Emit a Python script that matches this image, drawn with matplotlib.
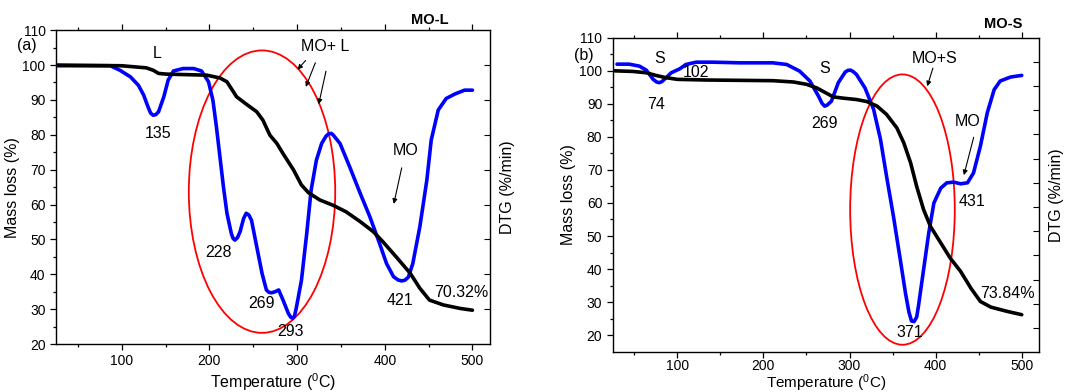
import numpy as np
import matplotlib
matplotlib.use('Agg')
import matplotlib.pyplot as plt
from matplotlib.patches import Ellipse

plt.rcParams['font.family'] = ['Liberation Sans', 'DejaVu Sans']
plt.rcParams['mathtext.fontset'] = 'custom'
plt.rcParams['mathtext.rm'] = 'Liberation Sans'

# ---- panel (a) MO-L ----
tg_a_x = [25, 100, 128, 136, 142, 151, 197, 212, 220, 231, 242, 254, 261, 269, 277, 284, 296,
          305, 313, 326, 341, 356, 372, 387, 398, 413, 429, 440, 451, 467, 486, 500]
tg_a_y = [100, 99.8, 99.2, 98.5, 97.6, 97.4, 97.1, 96.3, 95.2, 90.9, 88.8, 86.6, 84.2, 79.9,
          77.5, 74.6, 69.9, 65.6, 63.4, 61.3, 59.8, 57.9, 55.1, 52.2, 49.3, 45.0, 40.3, 36.0,
          32.6, 31.2, 30.2, 29.7]
dtg_a_x = [25, 87, 98, 110, 119, 125, 130, 133, 136, 139, 142, 148, 153, 159, 170, 182, 191,
           199, 204, 208, 212, 216, 220, 225, 227, 229, 232, 235, 239, 242, 245, 248, 254, 260,
           265, 268, 271, 275, 279, 284, 290, 293, 295, 297, 299, 305, 311, 316, 322, 328, 333,
           336, 339, 341, 349, 360, 372, 383, 394, 402, 410, 415, 419, 423, 427, 432, 440, 448,
           453, 461, 470, 480, 491, 500]
dtg_a_y = [99.8, 99.8, 98.5, 96.6, 94.2, 91.4, 88.0, 86.2, 85.6, 85.8, 86.6, 90.9, 95.7, 98.3,
           99.0, 99.0, 98.3, 95.2, 89.9, 82.3, 73.7, 65.1, 57.5, 51.7, 50.3, 49.8, 50.5, 52.2,
           56.0, 57.5, 57.0, 55.5, 47.9, 40.3, 35.5, 34.8, 34.7, 35.0, 35.5, 32.6, 28.8, 27.6,
           27.4, 28.0, 30.2, 38.3, 51.7, 64.1, 72.7, 77.5, 79.6, 80.3, 80.4, 80.0, 77.5, 70.8,
           63.2, 56.5, 48.9, 43.1, 39.3, 38.4, 38.1, 38.3, 39.2, 43.1, 53.6, 67.0, 78.5, 87.1,
           90.4, 91.7, 92.8, 92.8]

# ---- panel (b) MO-S ----
tg_b_x = [25, 48, 64, 75, 87, 100, 134, 211, 235, 250, 262, 274, 281, 293, 308, 320, 332, 343,
          355, 363, 371, 378, 386, 394, 406, 417, 429, 441, 452, 464, 483, 500]
tg_b_y = [100, 99.8, 99.4, 98.6, 97.9, 97.4, 97.2, 97.0, 96.6, 95.9, 94.8, 93.1, 92.1, 91.7,
          91.3, 90.7, 89.3, 86.8, 82.7, 78.2, 72.1, 65.0, 58.0, 52.9, 47.9, 43.3, 39.3, 34.2,
          30.2, 28.5, 27.2, 26.2]
dtg_b_x = [30, 44, 56, 64, 72, 76, 79, 82, 85, 93, 103, 110, 122, 141, 173, 211, 227, 242, 254,
           264, 268, 271, 274, 279, 287, 295, 298, 301, 304, 308, 318, 328, 336, 343, 351, 359,
           365, 369, 372, 375, 378, 380, 386, 392, 398, 406, 413, 421, 429, 437, 444, 452, 460,
           468, 475, 487, 500]
dtg_b_y = [102.0, 102.0, 101.4, 100.2, 97.4, 96.6, 96.4, 96.7, 97.4, 99.4, 100.6, 101.9, 102.6,
           102.6, 102.4, 102.4, 101.9, 99.9, 96.9, 92.3, 90.2, 89.3, 89.6, 90.8, 96.4, 99.6,
           100.1, 100.2, 99.8, 98.9, 94.8, 88.3, 79.2, 68.1, 56.0, 42.8, 32.7, 27.0, 24.3, 24.1,
           25.5, 28.7, 39.8, 50.9, 60.0, 64.5, 66.1, 66.3, 65.8, 66.1, 69.1, 77.2, 87.3, 94.3,
           96.9, 98.1, 98.6]

fig = plt.figure(figsize=(10.91, 3.92), dpi=100)
ax_a = fig.add_axes([0.0513, 0.1224, 0.3978, 0.8006])
ax_b = fig.add_axes([0.5616, 0.1028, 0.3907, 0.8010])


def style(ax, ylim, pad, xfs, xpad):
    ax.set_xticks([100, 200, 300, 400, 500])
    ax.set_xticks(np.arange(50, 520, 100), minor=True)
    ax.set_yticks(np.arange(20, 111, 10))
    ax.set_yticks(np.arange(25, ylim[1], 10), minor=True)
    ax.set_xlim(25, 520)
    ax.set_ylim(*ylim)
    ax.tick_params(axis='both', which='both', labelsize=10, direction='out', width=0.9)
    ax.tick_params(axis='x', pad=xpad)
    ax.tick_params(which='major', length=4)
    ax.tick_params(which='minor', length=2.5)
    ax.tick_params(top=True, which='both')
    for s in ax.spines.values():
        s.set_linewidth(1.0)
        s.set_color('#333333')
    ax.set_xlabel('Temperature ($\\mathregular{^0}$C)', fontsize=xfs, labelpad=pad)
    ax.set_ylabel('Mass loss (%)', fontsize=11.5, labelpad=2)


kw = dict(fontsize=11.5, ha='center', va='center')
arr = dict(arrowstyle='-|>', color='black', lw=0.8, mutation_scale=7)
lkw = dict(lw=2.6, solid_joinstyle='round', solid_capstyle='round')

# panel a
ax_a.plot(dtg_a_x, dtg_a_y, color='#0000ff', **lkw)
ax_a.plot(tg_a_x, tg_a_y, color='black', **lkw)
ax_a.add_patch(Ellipse((260, 63.7), 167, 81, fill=False, ec='#ff0000', lw=1.3))
style(ax_a, (20, 110), 2, 11.5, 3.5)
tw_a = ax_a.twinx()
tw_a.set_yticks(np.arange(30, 101, 10))
tw_a.set_ylim(20, 110)
tw_a.tick_params(direction='in', length=4, labelright=False)
tw_a.set_ylabel('DTG (%/min)', fontsize=11.5, labelpad=7)

ax_a.text(-8, 105.6, '(a)', clip_on=False, **kw)
ax_a.text(140, 103.3, 'L', **kw)
ax_a.text(142, 80.4, '135', **kw)
ax_a.text(210, 46.2, '228', **kw)
ax_a.text(259, 31.5, '269', **kw)
ax_a.text(293, 23.7, '293', **kw)
ax_a.text(417, 32.6, '421', **kw)
ax_a.text(487, 34.7, '70.32%', **kw)
ax_a.text(332, 105.2, 'MO+ L', **kw)
ax_a.text(424, 75.4, 'MO', **kw)
ax_a.annotate('', xy=(298.5, 98.1), xytext=(311.8, 101.9), arrowprops=arr)
ax_a.annotate('', xy=(308.8, 93.0), xytext=(322, 101.4), arrowprops=arr)
ax_a.annotate('', xy=(324, 88.0), xytext=(333.6, 99.0), arrowprops=arr)
ax_a.annotate('', xy=(409.6, 59.4), xytext=(420, 71.3), arrowprops=arr)
fig.text(430 / 1091, 1 - 20 / 392, 'MO-L', fontsize=10.5, fontweight='bold', ha='center', va='center')

# panel b
ax_b.plot(dtg_b_x, dtg_b_y, color='#0000ff', **lkw)
ax_b.plot(tg_b_x, tg_b_y, color='black', **lkw)
ax_b.add_patch(Ellipse((361.5, 58), 121.5, 81.8, fill=False, ec='#ff0000', lw=1.3))
style(ax_b, (15, 110), -0.5, 11, 1.5)
tw_b = ax_b.twinx()
tw_b.set_yticks(np.arange(-11, 1, 1))
tw_b.set_ylim(-11.98, 0.99)
tw_b.tick_params(direction='in', length=4, labelright=False)
tw_b.set_ylabel('DTG (%/min)', fontsize=11.5, labelpad=7)

ax_b.text(-8, 104.5, '(b)', clip_on=False, **kw)
ax_b.text(79.4, 103.6, 'S', **kw)
ax_b.text(74.8, 89.8, '74', **kw)
ax_b.text(122, 99.4, '102', **kw)
ax_b.text(271.6, 100.6, 'S', **kw)
ax_b.text(270.5, 84.0, '269', **kw)
ax_b.text(399, 103.6, 'MO+S', **kw)
ax_b.text(436.7, 84.7, 'MO', **kw)
ax_b.text(442.5, 60.5, '431', **kw)
ax_b.text(370, 20.8, '371', **kw)
ax_b.text(483, 32.7, '73.84%', **kw)
ax_b.annotate('', xy=(389.3, 94.5), xytext=(397.8, 101.6), arrowprops=arr)
ax_b.annotate('', xy=(432, 67.6), xytext=(445, 80.7), arrowprops=arr)
fig.text(1003 / 1091, 1 - 24 / 392, 'MO-S', fontsize=10.5, fontweight='bold', ha='center', va='center')

fig.savefig('out.png', dpi=100)
